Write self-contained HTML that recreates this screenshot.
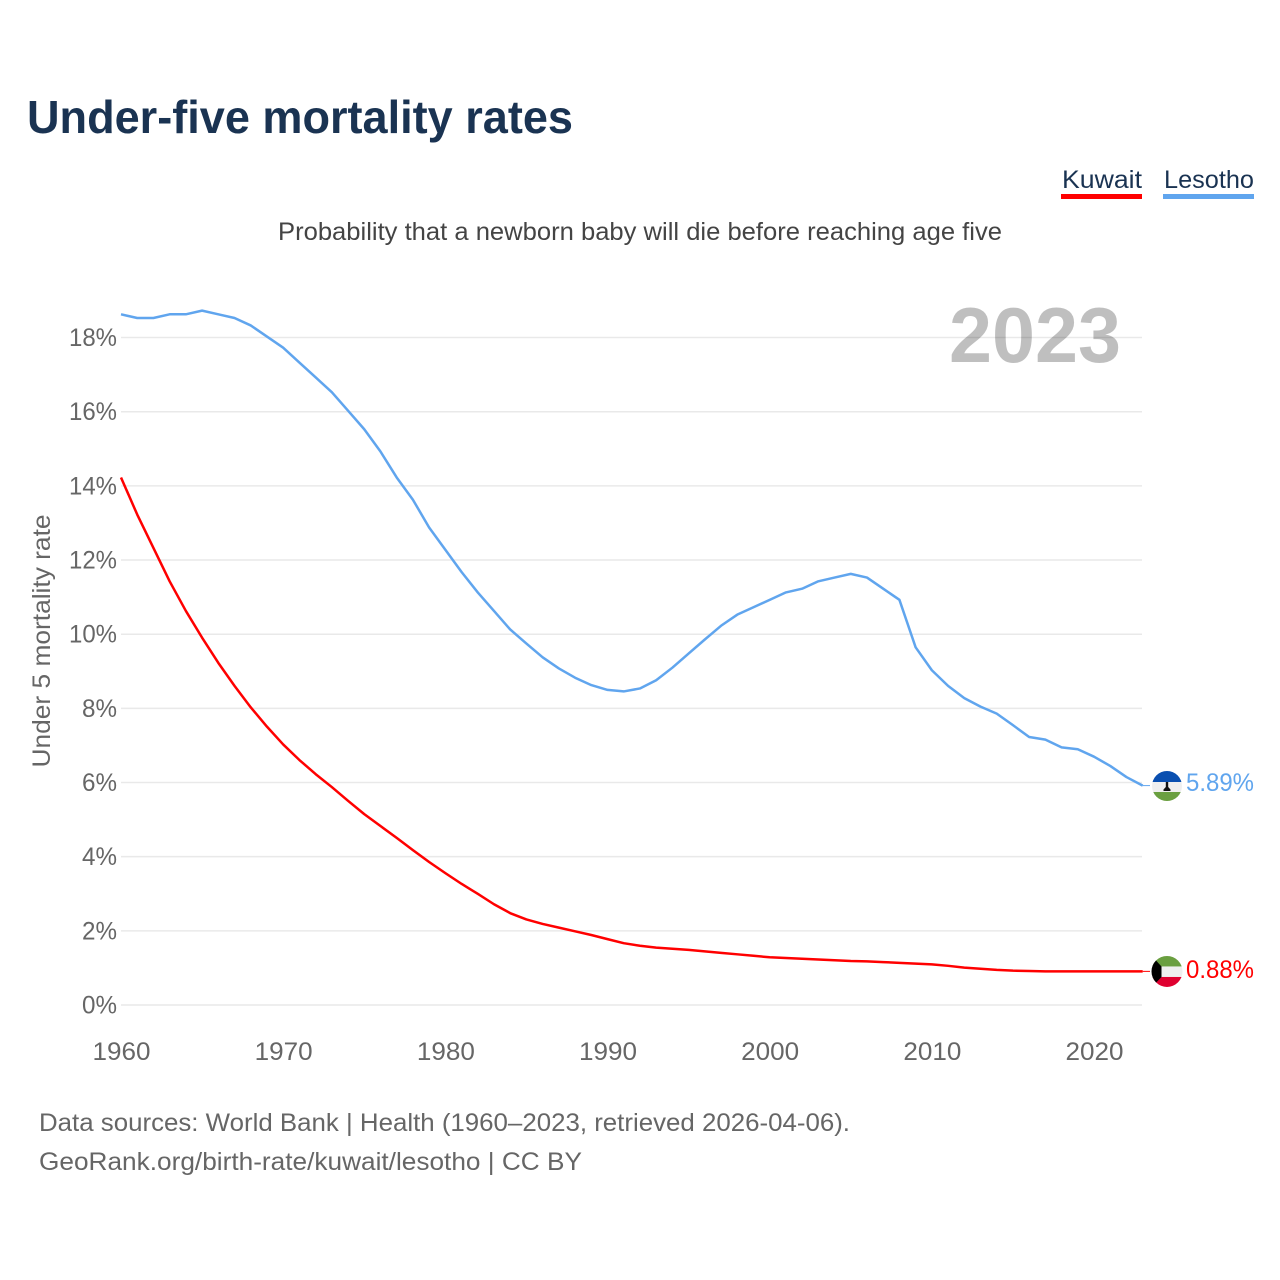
<!DOCTYPE html>
<html lang="en">
<head>
<meta charset="utf-8">
<title>Under-five mortality rates</title>
<style>
html,body{margin:0;padding:0;background:#fff;}
svg{display:block;font-family:"Liberation Sans",sans-serif;}
</style>
</head>
<body>
<svg id="chart" width="1280" height="1280" viewBox="0 0 1280 1280" xmlns="http://www.w3.org/2000/svg">
  <defs>
    <clipPath id="clip-lso"><circle cx="1167" cy="786" r="15"></circle></clipPath>
    <clipPath id="clip-kwt"><circle cx="1167" cy="971.5" r="15.5"></circle></clipPath>
  </defs>
  <text x="27" y="133" font-size="46" font-weight="700" fill="#1a3352" textLength="546" lengthAdjust="spacingAndGlyphs">Under-five mortality rates</text>
  <text x="1062" y="188" font-size="25" fill="#1a3352" textLength="80" lengthAdjust="spacingAndGlyphs">Kuwait</text>
  <rect x="1061" y="194" width="81" height="5" fill="#ff0000"></rect>
  <text x="1164" y="188" font-size="25" fill="#1a3352" textLength="90" lengthAdjust="spacingAndGlyphs">Lesotho</text>
  <rect x="1163" y="194" width="91" height="5" fill="#60a5ee"></rect>
  <text x="278" y="240" font-size="25" fill="#444444" textLength="724" lengthAdjust="spacingAndGlyphs">Probability that a newborn baby will die before reaching age five</text>
  <g id="grid"></g>
  <g id="yticks"></g>
  <g id="xticks"></g>
  <text transform="translate(50,641) rotate(-90)" text-anchor="middle" font-size="25" fill="#666666" textLength="253" lengthAdjust="spacingAndGlyphs">Under 5 mortality rate</text>
  <text x="949" y="362" font-size="78" font-weight="700" fill="#000000" fill-opacity="0.25" textLength="172" lengthAdjust="spacingAndGlyphs">2023</text>
  <g id="series"></g>
  <g id="wrap-lso">
    <g clip-path="url(#clip-lso)">
      <rect x="1152" y="771" width="30" height="11" fill="#0a4fb0"></rect>
      <rect x="1152" y="782" width="30" height="10" fill="#efefef"></rect>
      <rect x="1152" y="792" width="30" height="10" fill="#6a9f40"></rect>
      <path d="M1165.8 782h2.4v5l2.3 2.5v1.5h-7v-1.5l2.3-2.5z" fill="#111111"></path>
    </g>
  </g>
  <g id="wrap-kwt">
    <g clip-path="url(#clip-kwt)">
      <rect x="1151" y="956" width="32" height="10.5" fill="#6a9f40"></rect>
      <rect x="1151" y="966.5" width="32" height="10.5" fill="#efefef"></rect>
      <rect x="1151" y="977" width="32" height="11" fill="#df0030"></rect>
      <path d="M1151 955l10.5 11.5v10.5l-10.5 11z" fill="#000000"></path>
    </g>
  </g>
  <g id="endlabels"></g>
  <text x="39" y="1131" font-size="25" fill="#666666" textLength="811" lengthAdjust="spacingAndGlyphs">Data sources: World Bank | Health (1960–2023, retrieved 2026-04-06).</text>
  <text x="39" y="1170" font-size="25" fill="#666666" textLength="543" lengthAdjust="spacingAndGlyphs">GeoRank.org/birth-rate/kuwait/lesotho | CC BY</text>
</svg>
<script>
const years = [1960,1961,1962,1963,1964,1965,1966,1967,1968,1969,1970,1971,1972,1973,1974,1975,1976,1977,1978,1979,1980,1981,1982,1983,1984,1985,1986,1987,1988,1989,1990,1991,1992,1993,1994,1995,1996,1997,1998,1999,2000,2001,2002,2003,2004,2005,2006,2007,2008,2009,2010,2011,2012,2013,2014,2015,2016,2017,2018,2019,2020,2021,2022,2023];
const lesotho = [18.6,18.5,18.5,18.6,18.6,18.7,18.6,18.5,18.3,18.0,17.7,17.3,16.9,16.5,16.0,15.5,14.9,14.2,13.6,12.85,12.25,11.65,11.1,10.6,10.1,9.72,9.35,9.05,8.8,8.6,8.47,8.43,8.51,8.73,9.07,9.45,9.83,10.2,10.5,10.7,10.9,11.1,11.2,11.4,11.5,11.6,11.5,11.2,10.9,9.62,9.0,8.58,8.25,8.02,7.83,7.52,7.2,7.13,6.92,6.87,6.67,6.42,6.12,5.89];
const kuwait = [14.2,13.2,12.3,11.4,10.6,9.88,9.2,8.58,8.0,7.48,7.0,6.58,6.2,5.85,5.48,5.12,4.8,4.48,4.15,3.83,3.53,3.24,2.97,2.69,2.45,2.28,2.16,2.06,1.96,1.86,1.75,1.64,1.57,1.52,1.49,1.46,1.42,1.38,1.34,1.3,1.26,1.24,1.22,1.2,1.18,1.16,1.15,1.13,1.11,1.09,1.07,1.03,0.98,0.95,0.92,0.9,0.89,0.88,0.88,0.88,0.88,0.88,0.88,0.88];
const yTickValues = [0,2,4,6,8,10,12,14,16,18];
const xTickValues = [1960,1970,1980,1990,2000,2010,2020];

const NS = 'http://www.w3.org/2000/svg';
function xScale(year){ return 121 + (year - 1960) * 16.217; }
function yScale(v){ return 1005 - v * 37.08; }
function lineY(v){ return yScale(v) - 1; }
function make(tag, attrs, parent){
  const el = document.createElementNS(NS, tag);
  for (const k in attrs) el.setAttribute(k, attrs[k]);
  parent.appendChild(el);
  return el;
}
const grid = document.getElementById('grid');
const yticks = document.getElementById('yticks');
const xticks = document.getElementById('xticks');
const series = document.getElementById('series');
const endlabels = document.getElementById('endlabels');

yTickValues.forEach(function(v){
  const line = make('line', {x1:121, x2:1142, y1:yScale(v), y2:yScale(v), stroke:'#e9e9e9', 'stroke-width':1.5}, grid);
  
  
  const label = v + '%';
  const t = make('text', {x:117, y:yScale(v)+8.5, 'text-anchor':'end', 'font-size':25, fill:'#666666', textLength:label.length === 2 ? 35 : 48, lengthAdjust:'spacingAndGlyphs'}, yticks);
  
  
  t.textContent = label;
});
xTickValues.forEach(function(y){
  const t = make('text', {x:xScale(y)+0.5, y:1060, 'text-anchor':'middle', 'font-size':25, fill:'#666666', textLength:58, lengthAdjust:'spacingAndGlyphs'}, xticks);
  
  
  t.textContent = y;
});

function pathFor(values){
  return values.map(function(v,i){ return (i ? 'L' : 'M') + xScale(years[i]).toFixed(2) + ' ' + lineY(v).toFixed(2); }).join('');
}
const lineLesotho = make('path', {d:pathFor(lesotho), fill:'none', stroke:'#60a5ee', 'stroke-width':2.5, 'stroke-linejoin':'round'}, series);


const lineKuwait = make('path', {d:pathFor(kuwait), fill:'none', stroke:'#ff0000', 'stroke-width':2.5, 'stroke-linejoin':'round'}, series);



const lastLesotho = lesotho[lesotho.length - 1];
const lastKuwait = kuwait[kuwait.length - 1];
const connLesotho = make('line', {x1:xScale(2023), x2:1150, y1:lineY(lastLesotho), y2:lineY(lastLesotho), stroke:'#60a5ee', 'stroke-width':1}, series);


const connKuwait = make('line', {x1:xScale(2023), x2:1150, y1:lineY(lastKuwait), y2:lineY(lastKuwait), stroke:'#ff0000', 'stroke-width':1}, series);



const labelLesotho = make('text', {x:1186, y:lineY(lastLesotho)+5.5, 'font-size':25, fill:'#60a5ee', textLength:68, lengthAdjust:'spacingAndGlyphs'}, endlabels);


labelLesotho.textContent = lastLesotho.toFixed(2) + '%';
const labelKuwait = make('text', {x:1186, y:lineY(lastKuwait)+6.5, 'font-size':25, fill:'#ff0000', textLength:68, lengthAdjust:'spacingAndGlyphs'}, endlabels);


labelKuwait.textContent = lastKuwait.toFixed(2) + '%';

// Flags follow the last data value of each series.
document.getElementById('wrap-lso').setAttribute('transform', 'translate(0,' + (lineY(lastLesotho) - 785.6).toFixed(2) + ')');
document.getElementById('wrap-kwt').setAttribute('transform', 'translate(0,' + (lineY(lastKuwait) - 971.4).toFixed(2) + ')');
</script>
</body>
</html>
